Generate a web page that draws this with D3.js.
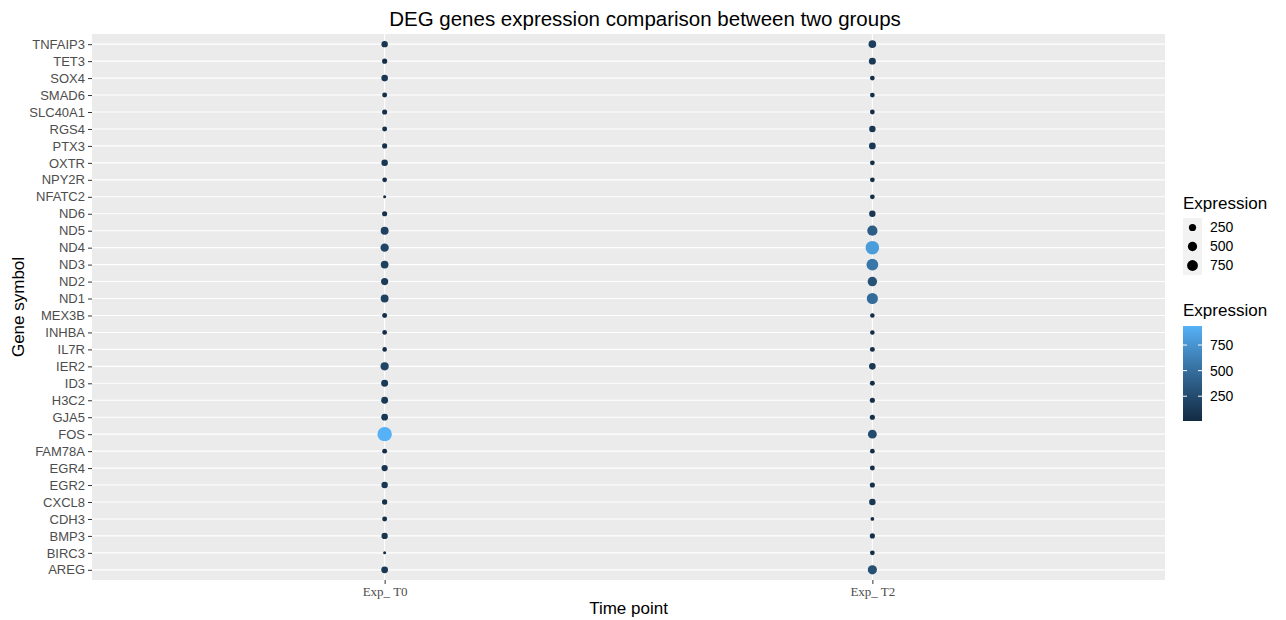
<!DOCTYPE html>
<html>
<head>
<meta charset="utf-8">
<script src="https://cdn.jsdelivr.net/npm/d3@7"></script>
<style>
  body { margin: 0; background: #ffffff; }
</style>
</head>
<body>
<div id="chart"></div>
<script>
// genes from top to bottom of the plot
const genes = ["TNFAIP3", "TET3", "SOX4", "SMAD6", "SLC40A1", "RGS4", "PTX3", "OXTR",
  "NPY2R", "NFATC2", "ND6", "ND5", "ND4", "ND3", "ND2", "ND1", "MEX3B", "INHBA",
  "IL7R", "IER2", "ID3", "H3C2", "GJA5", "FOS", "FAM78A", "EGR4", "EGR2", "CXCL8",
  "CDH3", "BMP3", "BIRC3", "AREG"];

const timePoints = ["Exp_ T0", "Exp_ T2"];

// expression at each time point, same order as genes
const t0Values = [90, 40, 100, 35, 40, 35, 40, 95, 30, 8, 40, 180, 210, 170, 130, 175,
  35, 30, 25, 200, 120, 115, 105, 936, 35, 85, 90, 45, 35, 85, 8, 110];
const t2Values = [160, 120, 30, 30, 30, 90, 110, 30, 30, 30, 90, 380, 800, 560, 300, 480,
  25, 25, 35, 100, 35, 40, 40, 250, 30, 35, 40, 95, 12, 40, 30, 280];

// legend breaks
const sizeBreaks = [250, 500, 750];
const colorBreaks = [250, 500, 750];

const W = 1286, H = 620;
const panel = { left: 92, right: 1165, top: 34, bottom: 580 };
const SANS = "'Liberation Sans', Arial, sans-serif";

// build the long table from the arrays
const points = [];
genes.forEach((g, i) => {
  points.push({ gene: g, time: timePoints[0], value: t0Values[i] });
  points.push({ gene: g, time: timePoints[1], value: t2Values[i] });
});

const vMin = d3.min(points, d => d.value);
const vMax = d3.max(points, d => d.value);

const svg = d3.select("#chart").append("svg")
  .attr("width", W)
  .attr("height", H)
  .attr("font-family", SANS);

// discrete scales with ggplot style expansion
const xScale = d3.scalePoint()
  .domain(timePoints)
  .range([panel.left, panel.right])
  .padding(0.6);

const yScale = d3.scalePoint()
  .domain(genes)
  .range([panel.top, panel.bottom])
  .padding(0.6);

// size: area proportional, like scale_size
const sizeNorm = d3.scaleLinear().domain([vMin, vMax]).range([0, 1]).clamp(true);
const radiusScale = d3.scaleLinear().domain([0, 1]).range([1.5, 7.2]);
const radius = v => radiusScale(Math.sqrt(sizeNorm(v)));

// colour: default ggplot continuous gradient
const colorScale = d3.scaleLinear()
  .domain([vMin, vMax])
  .range(["#132B43", "#56B1F7"])
  .interpolate(d3.interpolateLab);

// panel background
svg.append("rect")
  .attr("x", panel.left)
  .attr("y", panel.top)
  .attr("width", panel.right - panel.left)
  .attr("height", panel.bottom - panel.top)
  .attr("fill", "#EBEBEB");

// grid lines
svg.append("g")
  .selectAll("line")
  .data(genes)
  .join("line")
  .attr("x1", panel.left)
  .attr("x2", panel.right)
  .attr("y1", d => yScale(d))
  .attr("y2", d => yScale(d))
  .attr("stroke", "#ffffff")
  .attr("stroke-width", 1.1);

svg.append("g")
  .selectAll("line")
  .data(timePoints)
  .join("line")
  .attr("x1", d => xScale(d))
  .attr("x2", d => xScale(d))
  .attr("y1", panel.top)
  .attr("y2", panel.bottom)
  .attr("stroke", "#ffffff")
  .attr("stroke-width", 1.1);

// points
svg.append("g")
  .selectAll("circle")
  .data(points)
  .join("circle")
  .attr("cx", d => xScale(d.time))
  .attr("cy", d => yScale(d.gene))
  .attr("r", d => radius(d.value))
  .attr("fill", d => colorScale(d.value));

// axes
const yAxis = svg.append("g")
  .attr("transform", "translate(" + panel.left + ",0)")
  .call(d3.axisLeft(yScale).tickSize(4).tickPadding(3));
yAxis.select(".domain").remove();
yAxis.selectAll(".tick line").attr("stroke", "#333333");
yAxis.selectAll(".tick text")
  .attr("fill", "#4D4D4D")
  .attr("font-size", "13px")
  .attr("font-family", SANS);

const xAxis = svg.append("g")
  .attr("transform", "translate(0," + panel.bottom + ")")
  .call(d3.axisBottom(xScale).tickSize(4).tickPadding(3));
xAxis.select(".domain").remove();
xAxis.selectAll(".tick line").attr("stroke", "#333333");
xAxis.selectAll(".tick text")
  .attr("fill", "#4D4D4D")
  .attr("font-size", "13px")
  .attr("font-family", "'Liberation Serif', 'Times New Roman', serif");

// titles
svg.append("text")
  .attr("x", 645)
  .attr("y", 26)
  .attr("text-anchor", "middle")
  .attr("font-size", "20.5px")
  .text("DEG genes expression comparison between two groups");

svg.append("text")
  .attr("x", (panel.left + panel.right) / 2)
  .attr("y", 614)
  .attr("text-anchor", "middle")
  .attr("font-size", "17px")
  .text("Time point");

svg.append("text")
  .attr("transform", "rotate(-90)")
  .attr("x", -(panel.top + panel.bottom) / 2)
  .attr("y", 24)
  .attr("text-anchor", "middle")
  .attr("font-size", "17px")
  .text("Gene symbol");

// size legend
const legX = 1183;
const keySize = 19;
const sizeLeg = svg.append("g");
sizeLeg.append("text")
  .attr("x", legX)
  .attr("y", 209)
  .attr("font-size", "17px")
  .text("Expression");

const sizeKeys = sizeLeg.selectAll("g.key")
  .data(sizeBreaks)
  .join("g")
  .attr("class", "key")
  .attr("transform", (d, i) => "translate(" + legX + "," + (218 + i * keySize) + ")");
sizeKeys.append("rect")
  .attr("width", keySize)
  .attr("height", keySize)
  .attr("fill", "#F2F2F2");
sizeKeys.append("circle")
  .attr("cx", keySize / 2)
  .attr("cy", keySize / 2)
  .attr("r", d => radius(d) * 0.82)
  .attr("fill", "#000000");
sizeKeys.append("text")
  .attr("x", 27)
  .attr("y", keySize / 2)
  .attr("dy", "0.35em")
  .attr("font-size", "14px")
  .text(d => d);

// colour bar legend
const barTop = 326, barBottom = 421, barX = legX, barW = 19;
const colLeg = svg.append("g");
colLeg.append("text")
  .attr("x", legX)
  .attr("y", 316)
  .attr("font-size", "17px")
  .text("Expression");

const grad = svg.append("defs").append("linearGradient")
  .attr("id", "exprGrad")
  .attr("x1", "0").attr("y1", "1")
  .attr("x2", "0").attr("y2", "0");
d3.range(0, 1.0001, 0.05).forEach(t => {
  grad.append("stop")
    .attr("offset", t)
    .attr("stop-color", colorScale(vMin + t * (vMax - vMin)));
});

const barScale = d3.scaleLinear()
  .domain([vMin, vMax])
  .range([barBottom, barTop]);

colLeg.append("rect")
  .attr("x", barX)
  .attr("y", barTop)
  .attr("width", barW)
  .attr("height", barBottom - barTop)
  .attr("fill", "url(#exprGrad)");

colorBreaks.forEach(b => {
  colLeg.append("line")
    .attr("x1", barX).attr("x2", barX + 4)
    .attr("y1", barScale(b)).attr("y2", barScale(b))
    .attr("stroke", "#ffffff").attr("stroke-width", 1);
  colLeg.append("line")
    .attr("x1", barX + barW - 4).attr("x2", barX + barW)
    .attr("y1", barScale(b)).attr("y2", barScale(b))
    .attr("stroke", "#ffffff").attr("stroke-width", 1);
  colLeg.append("text")
    .attr("x", barX + 27)
    .attr("y", barScale(b))
    .attr("dy", "0.35em")
    .attr("font-size", "14px")
    .text(b);
});
</script>
</body>
</html>
